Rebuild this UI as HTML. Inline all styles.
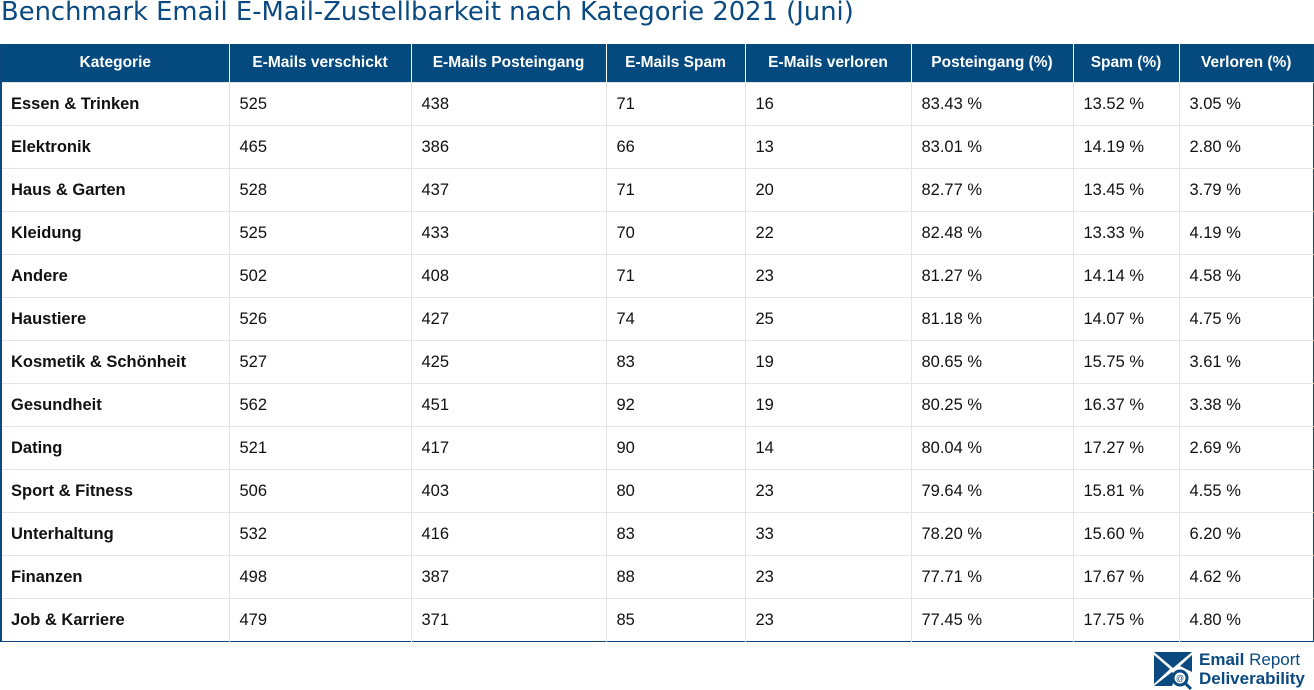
<!DOCTYPE html>
<html><head><meta charset="utf-8"><style>
body{margin:0;width:1314px;height:690px;background:#fff;overflow:hidden;position:relative;font-family:"Liberation Sans",sans-serif}
h1{position:absolute;left:1px;top:-3px;margin:0;font:normal 25.8px "DejaVu Sans",sans-serif;color:#0b4a80;white-space:nowrap}
table{position:absolute;left:0;top:44px;border-collapse:collapse;width:1314px;table-layout:fixed;border-left:2px solid #0b4a80;border-right:1px solid #0b4a80;border-bottom:1px solid #0b4a80}
th{background:#054a7f;color:#fff;font-size:15.5px;font-weight:bold;height:38px;padding:0;text-align:center;border-right:1px solid #fff}
th:last-child{border-right:none}
td{height:42px;padding:0 0 0 10px;font-size:16.5px;color:#111;border-right:1px solid #e4e4e4;border-top:1px solid #e4e4e4}
td:first-child{font-weight:bold;padding-left:9px}
td:last-child{border-right:none}
.logo{position:absolute;left:1154px;top:652px}
.lt{position:absolute;left:1199px;top:650px;color:#0b4a80;font:bold 17px/19px "Liberation Sans",sans-serif}
</style></head><body>
<h1>Benchmark Email E-Mail-Zustellbarkeit nach Kategorie 2021 (Juni)</h1>
<table>
<colgroup><col style="width:228px"><col style="width:182px"><col style="width:195px"><col style="width:139px"><col style="width:166px"><col style="width:162px"><col style="width:106px"><col></colgroup>
<tr><th>Kategorie</th><th>E-Mails verschickt</th><th>E-Mails Posteingang</th><th>E-Mails Spam</th><th>E-Mails verloren</th><th>Posteingang (%)</th><th>Spam (%)</th><th>Verloren (%)</th></tr>
<tr><td>Essen &amp; Trinken</td><td>525</td><td>438</td><td>71</td><td>16</td><td>83.43 %</td><td>13.52 %</td><td>3.05 %</td></tr>
<tr><td>Elektronik</td><td>465</td><td>386</td><td>66</td><td>13</td><td>83.01 %</td><td>14.19 %</td><td>2.80 %</td></tr>
<tr><td>Haus &amp; Garten</td><td>528</td><td>437</td><td>71</td><td>20</td><td>82.77 %</td><td>13.45 %</td><td>3.79 %</td></tr>
<tr><td>Kleidung</td><td>525</td><td>433</td><td>70</td><td>22</td><td>82.48 %</td><td>13.33 %</td><td>4.19 %</td></tr>
<tr><td>Andere</td><td>502</td><td>408</td><td>71</td><td>23</td><td>81.27 %</td><td>14.14 %</td><td>4.58 %</td></tr>
<tr><td>Haustiere</td><td>526</td><td>427</td><td>74</td><td>25</td><td>81.18 %</td><td>14.07 %</td><td>4.75 %</td></tr>
<tr><td>Kosmetik &amp; Schönheit</td><td>527</td><td>425</td><td>83</td><td>19</td><td>80.65 %</td><td>15.75 %</td><td>3.61 %</td></tr>
<tr><td>Gesundheit</td><td>562</td><td>451</td><td>92</td><td>19</td><td>80.25 %</td><td>16.37 %</td><td>3.38 %</td></tr>
<tr><td>Dating</td><td>521</td><td>417</td><td>90</td><td>14</td><td>80.04 %</td><td>17.27 %</td><td>2.69 %</td></tr>
<tr><td>Sport &amp; Fitness</td><td>506</td><td>403</td><td>80</td><td>23</td><td>79.64 %</td><td>15.81 %</td><td>4.55 %</td></tr>
<tr><td>Unterhaltung</td><td>532</td><td>416</td><td>83</td><td>33</td><td>78.20 %</td><td>15.60 %</td><td>6.20 %</td></tr>
<tr><td>Finanzen</td><td>498</td><td>387</td><td>88</td><td>23</td><td>77.71 %</td><td>17.67 %</td><td>4.62 %</td></tr>
<tr><td>Job &amp; Karriere</td><td>479</td><td>371</td><td>85</td><td>23</td><td>77.45 %</td><td>17.75 %</td><td>4.80 %</td></tr>
</table>
<svg class="logo" width="42" height="38" viewBox="0 0 42 38">
<polygon points="0,0 38,0 19,16" fill="#0b4a80"/>
<polygon points="0,3 0,32 16,17" fill="#0b4a80"/>
<polygon points="38,3 38,20 26,14" fill="#0b4a80"/>
<polygon points="0,34 18,20 22,24 18,34" fill="#0b4a80"/>
<circle cx="26" cy="26" r="7" fill="#fff" stroke="#0b4a80" stroke-width="3"/>
<line x1="31" y1="31" x2="37" y2="37" stroke="#0b4a80" stroke-width="3"/>
<text x="26" y="29" font-size="8" text-anchor="middle" fill="#0b4a80" font-family="Liberation Sans">@</text>
</svg>
<div class="lt">Email <span style="font-weight:normal">Report</span><br>Deliverability</div>
</body></html>
